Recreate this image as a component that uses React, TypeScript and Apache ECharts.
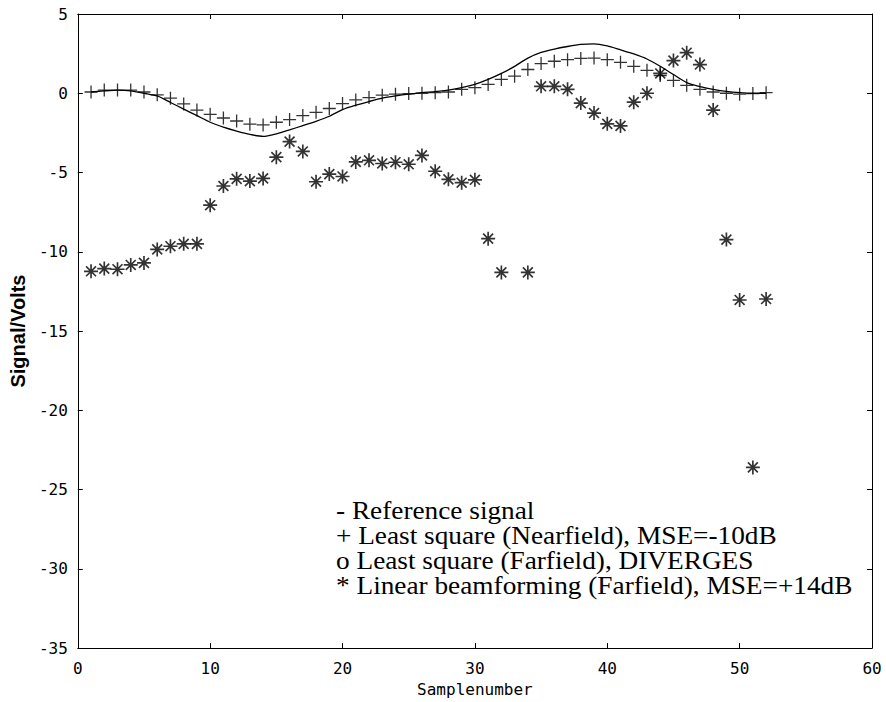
import React, { useEffect, useRef } from "react";
import * as echarts from "echarts";

const xTickLabels = ["0", "10", "20", "30", "40", "50", "60"];
const yTickLabels = ["-35", "-30", "-25", "-20", "-15", "-10", "-5", "0", "5"];

const samples = Array.from({ length: 52 }, (_, i) => i + 1);

const referenceSignal = [
  0.08, 0.15, 0.2, 0.15, 0.0, -0.17, -0.58, -1.0, -1.41, -1.83, -2.14, -2.39, -2.6,
  -2.72, -2.56, -2.31, -2.04, -1.77, -1.45, -1.03, -0.75, -0.52, -0.31, -0.17, -0.06,
  0.04, 0.1, 0.2, 0.35, 0.56, 0.87, 1.25, 1.7, 2.22, 2.58, 2.79, 2.95, 3.08, 3.12,
  2.99, 2.74, 2.48, 2.16, 1.7, 1.18, 0.67, 0.42, 0.25, 0.12, 0.04, 0.0, 0.0,
];

const leastSquareNear = [
  0.08, 0.2, 0.2, 0.2, 0.08, -0.1, -0.31, -0.67, -1.06, -1.33, -1.56, -1.75, -1.95,
  -2.0, -1.83, -1.66, -1.41, -1.2, -0.96, -0.65, -0.42, -0.27, -0.12, -0.06, -0.02,
  0.0, 0.04, 0.08, 0.25, 0.35, 0.56, 0.87, 1.08, 1.5, 1.87, 2.02, 2.12, 2.2, 2.22,
  2.12, 1.95, 1.7, 1.45, 1.12, 0.81, 0.5, 0.25, 0.08, 0.0, -0.06, -0.02, 0.04,
];

const beamformX = [
  1, 2, 3, 4, 5, 6, 7, 8, 9, 10, 11, 12, 13, 14, 15, 16, 17, 18, 19, 20, 21, 22, 23,
  24, 25, 26, 27, 28, 29, 30, 31, 32, 34, 35, 36, 37, 38, 39, 40, 41, 42, 43, 44, 45,
  46, 47, 48, 49, 50, 51, 52,
];
const beamformY = [
  -11.23, -11.06, -11.1, -10.83, -10.7, -9.85, -9.65, -9.5, -9.5, -7.06, -5.85, -5.4,
  -5.54, -5.37, -4.03, -3.05, -3.67, -5.58, -5.1, -5.25, -4.33, -4.23, -4.43, -4.35,
  -4.48, -3.92, -4.92, -5.43, -5.64, -5.46, -9.17, -11.3, -11.3, 0.44, 0.44, 0.25,
  -0.62, -1.25, -1.93, -2.06, -0.56, 0.0, 1.25, 2.06, 2.56, 1.81, -1.06, -9.23,
  -13.04, -23.6, -12.98,
];

const legendLines = [
  "- Reference signal",
  "+ Least square (Nearfield), MSE=-10dB",
  "o Least square (Farfield), DIVERGES",
  "* Linear beamforming (Farfield), MSE=+14dB",
];

const PLUS_PATH =
  "path://M0 45 L100 45 L100 55 L0 55 Z M45 0 L55 0 L55 100 L45 100 Z";
const STAR_PATH =
  "path://M0 44 L100 44 L100 56 L0 56 Z M44 0 L56 0 L56 100 L44 100 Z " +
  "M18.8 10.4 L89.6 81.2 L81.2 89.6 L10.4 18.8 Z " +
  "M81.2 10.4 L89.6 18.8 L18.8 89.6 L10.4 81.2 Z " +
  "M38 38 L62 38 L62 62 L38 62 Z";

export default function App() {
  const ref = useRef<HTMLDivElement>(null);

  useEffect(() => {
    if (!ref.current) return;
    const chart = echarts.init(ref.current, undefined, { renderer: "svg" });
    const monoFont = "'DejaVu Sans Mono', 'Liberation Mono', monospace";
    const tickStyle = { show: true, inside: true, length: 5, lineStyle: { color: "#000", width: 1 } };
    const lineStyle = { color: "#000", width: 1 };

    chart.setOption({
      animation: false,
      backgroundColor: "#fff",
      grid: { left: 76, right: 14, top: 14, bottom: 50, containLabel: false },
      xAxis: [
        {
          type: "value",
          min: 0,
          max: 60,
          interval: 10,
          name: "Samplenumber",
          nameLocation: "middle",
          nameGap: 30,
          nameTextStyle: { fontFamily: monoFont, fontSize: 16, color: "#000" },
          axisLine: { show: true, onZero: false, lineStyle },
          axisTick: tickStyle,
          splitLine: { show: false },
          axisLabel: {
            margin: 12,
            fontFamily: monoFont,
            fontSize: 16,
            color: "#000",
            formatter: (v: number) => xTickLabels[Math.round(v / 10)] ?? String(v),
          },
        },
        {
          type: "value",
          position: "top",
          min: 0,
          max: 60,
          interval: 10,
          axisLine: { show: true, onZero: false, lineStyle },
          axisTick: tickStyle,
          axisLabel: { show: false },
          splitLine: { show: false },
        },
      ],
      yAxis: [
        {
          type: "value",
          min: -35,
          max: 5,
          interval: 5,
          name: "Signal/Volts",
          nameLocation: "middle",
          nameGap: 31,
          nameTextStyle: {
            fontFamily: "'Liberation Sans', Arial, sans-serif",
            fontWeight: "bold",
            fontSize: 20,
            color: "#000",
          },
          axisLine: { show: true, onZero: false, lineStyle },
          axisTick: tickStyle,
          splitLine: { show: false },
          axisLabel: {
            margin: 10,
            fontFamily: monoFont,
            fontSize: 16,
            color: "#000",
            formatter: (v: number) => yTickLabels[Math.round((v + 35) / 5)] ?? String(v),
          },
        },
        {
          type: "value",
          position: "right",
          min: -35,
          max: 5,
          interval: 5,
          axisLine: { show: true, onZero: false, lineStyle },
          axisTick: tickStyle,
          axisLabel: { show: false },
          splitLine: { show: false },
        },
      ],
      series: [
        {
          name: "Reference signal",
          type: "line",
          data: samples.map((x, i) => [x, referenceSignal[i]]),
          showSymbol: false,
          symbol: "none",
          smooth: 0.25,
          lineStyle: { color: "#000", width: 1.3 },
          z: 2,
        },
        {
          name: "Least square (Nearfield)",
          type: "scatter",
          data: samples.map((x, i) => [x, leastSquareNear[i]]),
          symbol: PLUS_PATH,
          symbolSize: 13,
          itemStyle: { color: "#000" },
          z: 3,
        },
        {
          name: "Linear beamforming (Farfield)",
          type: "scatter",
          data: beamformX.map((x, i) => [x, beamformY[i]]),
          symbol: STAR_PATH,
          symbolSize: 14,
          itemStyle: { color: "#000" },
          z: 4,
        },
      ],
      graphic: legendLines.map((t, i) => ({
        type: "text",
        x: 336,
        y: 510 + i * 25,
        scaleX: 1.05,
        style: {
          text: t,
          fontFamily: "'Liberation Serif', 'Times New Roman', serif",
          fontSize: 26,
          fill: "#000",
          verticalAlign: "middle",
          align: "left",
        },
        z: 10,
      })),
    });

    return () => chart.dispose();
  }, []);

  return <div ref={ref} style={{ width: 886, height: 702, position: "absolute", left: 0, top: 0 }} />;
}
